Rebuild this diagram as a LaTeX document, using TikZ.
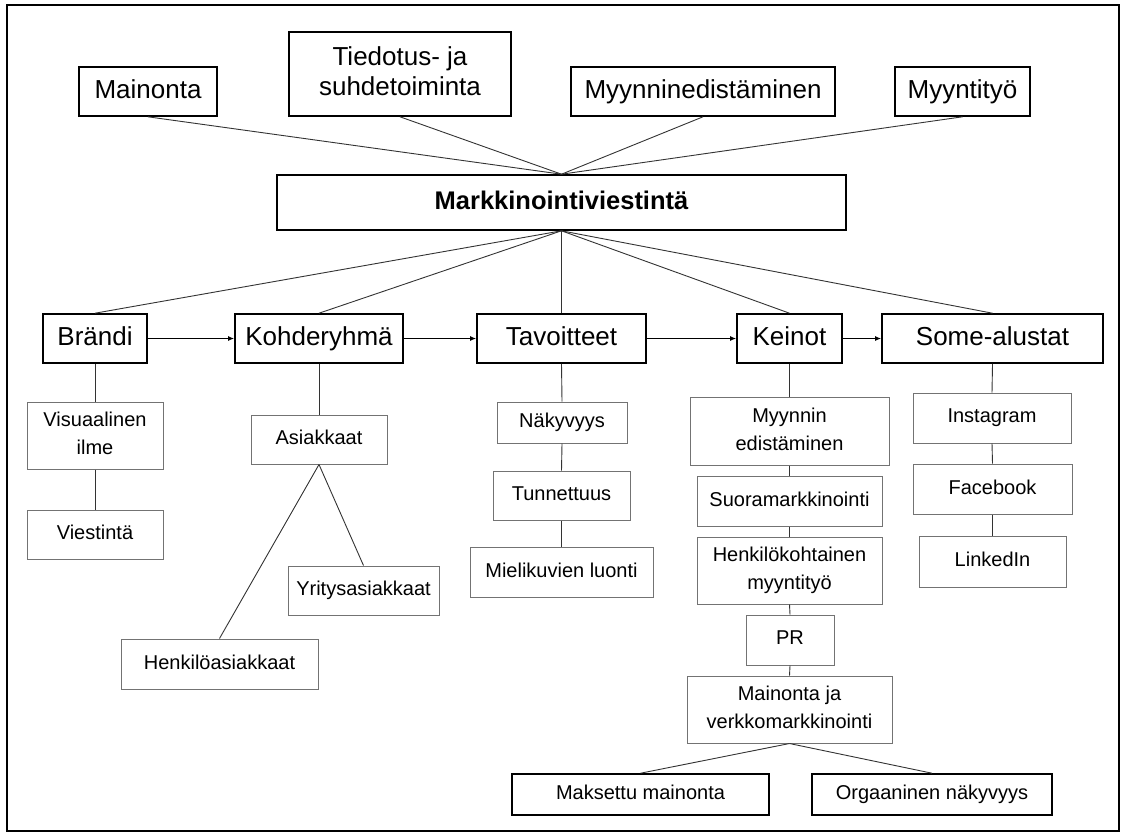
\documentclass[tikz,border=0pt]{standalone}
\usepackage{fontspec}
\setmainfont{Liberation Sans}
\usetikzlibrary{arrows.meta}
\newcommand{\boxstrut}{\rule[-0.2em]{0pt}{0.88em}}
\begin{document}
\begin{tikzpicture}[x=1pt,y=-1pt,
  anybox/.style={inner sep=0pt,align=center,execute at begin node=\boxstrut,execute at end node=\boxstrut},
  topbox/.style={anybox,draw=black,line width=1.6pt,font=\fontsize{26}{30}\selectfont},
  subbox/.style={anybox,draw=black!55,line width=1pt,font=\fontsize{20}{28}\selectfont},
  leafbox/.style={anybox,draw=black,line width=1.6pt,font=\fontsize{20}{24}\selectfont},
  conn/.style={draw=black!80,line width=0.9pt},
  flow/.style={draw=black,line width=1.4pt,-{Latex[length=6pt,width=5pt]}}]
\useasboundingbox (0,0) rectangle (1123,836);
\draw[line width=1.8pt] (7,5) rectangle (1119,831);
% top row
\node[topbox,minimum width=138pt,minimum height=49pt] (mai) at (148,91.5) {Mainonta};
\node[topbox,minimum width=222pt,minimum height=84pt] (tie) at (400,74) {Tiedotus- ja\\suhdetoiminta};
\node[topbox,minimum width=264pt,minimum height=49pt] (mye) at (703,91.5) {Myynninedistäminen};
\node[topbox,minimum width=135pt,minimum height=49pt] (myt) at (962.5,91.5) {Myyntityö};
% main
\node[topbox,minimum width=569pt,minimum height=55pt,font=\fontsize{25.5}{30}\selectfont\bfseries] (main) at (561.5,202.5) {Markkinointiviestintä};
% second row
\node[topbox,minimum width=104pt,minimum height=49pt] (bra) at (95,338.5) {Brändi};
\node[topbox,minimum width=168pt,minimum height=49pt] (koh) at (319,338.5) {Kohderyhmä};
\node[topbox,minimum width=169pt,minimum height=49pt] (tav) at (561.5,338.5) {Tavoitteet};
\node[topbox,minimum width=105pt,minimum height=49pt] (kei) at (789.5,338.5) {Keinot};
\node[topbox,minimum width=221pt,minimum height=49pt] (som) at (992.5,338.5) {Some-alustat};
% Brändi column
\node[subbox,minimum width=136pt,minimum height=67pt] (vis) at (95,435.5) {Visuaalinen\\ilme};
\node[subbox,minimum width=136pt,minimum height=49pt] (vie) at (95,534.5) {Viestintä};
% Kohderyhmä column
\node[subbox,minimum width=136pt,minimum height=49pt] (asi) at (319,439.5) {Asiakkaat};
\node[subbox,minimum width=151pt,minimum height=49pt] (yri) at (363.5,590.5) {Yritysasiakkaat};
\node[subbox,minimum width=197pt,minimum height=50pt] (hen) at (219.5,664) {Henkilöasiakkaat};
% Tavoitteet column
\node[subbox,minimum width=130pt,minimum height=41pt] (nak) at (562,422.5) {Näkyvyys};
\node[subbox,minimum width=137pt,minimum height=49pt] (tun) at (561.5,495.5) {Tunnettuus};
\node[subbox,minimum width=183pt,minimum height=50pt] (mie) at (561.5,572) {Mielikuvien luonti};
% Keinot column
\node[subbox,minimum width=199pt,minimum height=68pt] (myn) at (789.5,431) {Myynnin\\edistäminen};
\node[subbox,minimum width=185pt,minimum height=50pt] (suo) at (789.5,501) {Suoramarkkinointi};
\node[subbox,minimum width=185pt,minimum height=67pt] (hkm) at (789.5,570.5) {Henkilökohtainen\\myyntityö};
\node[subbox,minimum width=88pt,minimum height=50pt] (pr) at (790,640) {PR};
\node[subbox,minimum width=205pt,minimum height=67pt] (mjv) at (789.5,709.5) {Mainonta ja\\verkkomarkkinointi};
\node[leafbox,minimum width=257pt,minimum height=41pt] (mak) at (640.5,794.5) {Maksettu mainonta};
\node[leafbox,minimum width=240pt,minimum height=41pt] (org) at (932,794.5) {Orgaaninen näkyvyys};
% Some column
\node[subbox,minimum width=158pt,minimum height=50pt] (ins) at (992,418) {Instagram};
\node[subbox,minimum width=159pt,minimum height=50pt] (fac) at (992.5,489) {Facebook};
\node[subbox,minimum width=147pt,minimum height=51pt] (lin) at (992.5,561.5) {LinkedIn};
% connectors top
\foreach \n in {mai,tie,mye,myt} \draw[conn] (\n.south) -- (main.north);
\foreach \n in {bra,koh,tav,kei,som} \draw[conn] (main.south) -- (\n.north);
% flow arrows
\draw[flow] (bra.east) -- (koh.west);
\draw[flow] (koh.east) -- (tav.west);
\draw[flow] (tav.east) -- (kei.west);
\draw[flow] (kei.east) -- (som.west);
% columns
\draw[conn] (bra.south) -- (vis.north);
\draw[conn] (vis.south) -- (vie.north);
\draw[conn] (koh.south) -- (asi.north);
\draw[conn] (asi.south) -- (yri.north);
\draw[conn] (asi.south) -- (hen.north);
\draw[conn] (tav.south) -- (nak.north);
\draw[conn] (nak.south) -- (tun.north);
\draw[conn] (tun.south) -- (mie.north);
\draw[conn] (kei.south) -- (myn.north);
\draw[conn] (myn.south) -- (suo.north);
\draw[conn] (suo.south) -- (hkm.north);
\draw[conn] (hkm.south) -- (pr.north);
\draw[conn] (pr.south) -- (mjv.north);
\draw[conn] (mjv.south) -- (mak.north);
\draw[conn] (mjv.south) -- (org.north);
\draw[conn] (som.south) -- (ins.north);
\draw[conn] (ins.south) -- (fac.north);
\draw[conn] (fac.south) -- (lin.north);
\end{tikzpicture}
\end{document}
